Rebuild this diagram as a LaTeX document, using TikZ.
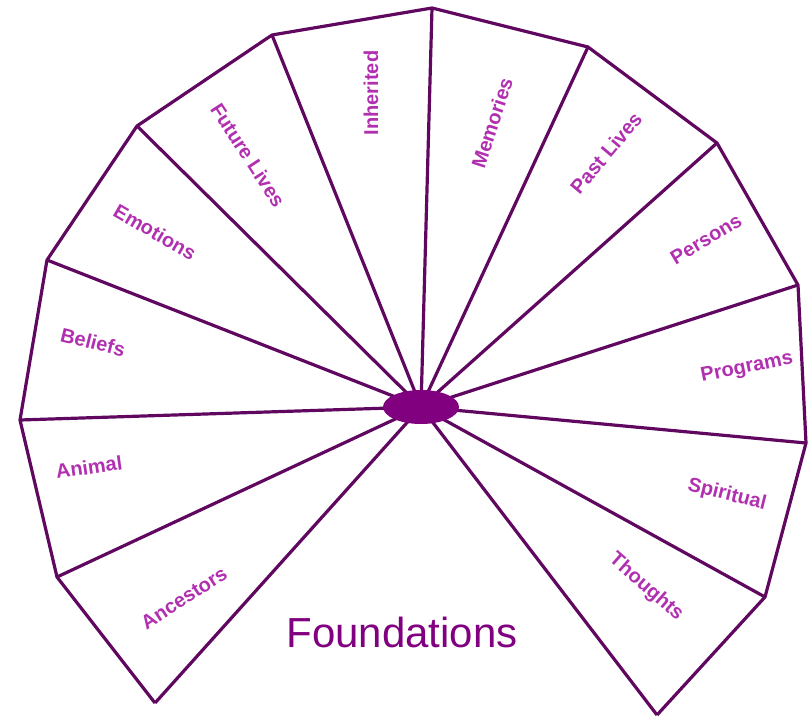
\documentclass[tikz,border=0pt]{standalone}
\usepackage{fontspec}
\setmainfont{Liberation Sans}
\usetikzlibrary{shapes.geometric}
\definecolor{spoke}{RGB}{96,8,96}
\definecolor{lblcol}{RGB}{176,48,176}
\definecolor{hubcol}{RGB}{128,0,128}
\tikzset{
  lbl/.style={text=lblcol,font=\fontsize{20}{23}\selectfont\bfseries,inner sep=0pt},
  rim/.style={draw=spoke,line width=3.2pt,line join=round}
}
\begin{document}
\begin{tikzpicture}[x=1pt,y=-1pt]
    \useasboundingbox (0,0) rectangle (808,720);
    \coordinate (C) at (421,407);
    \coordinate (V1) at (155,703);
    \coordinate (V2) at (57,577);
    \coordinate (V3) at (20,420);
    \coordinate (V4) at (47,260);
    \coordinate (V5) at (137,126);
    \coordinate (V6) at (272,35);
    \coordinate (V7) at (432,8);
    \coordinate (V8) at (588,47);
    \coordinate (V9) at (717,143);
    \coordinate (V10) at (798,285);
    \coordinate (V11) at (806,443);
    \coordinate (V12) at (765,597);
    \coordinate (V13) at (657,715);
    \draw[rim] (C) -- (V1) (C) -- (V2) (C) -- (V3) (C) -- (V4) (C) -- (V5)
        (C) -- (V6) (C) -- (V7) (C) -- (V8) (C) -- (V9) (C) -- (V10)
        (C) -- (V11) (C) -- (V12) (C) -- (V13);
    \draw[rim] (V1) -- (V2) -- (V3) -- (V4) -- (V5) -- (V6) -- (V7)
        -- (V8) -- (V9) -- (V10) -- (V11) -- (V12) -- (V13);
    \node[ellipse,fill=hubcol,minimum width=76pt,minimum height=34pt] (hub) at (C) {};
    \node[lbl,rotate=33] (ancestors) at (184,598) {Ancestors};
    \node[lbl,rotate=8] (animal) at (89,467) {Animal};
    \node[lbl,rotate=-14] (beliefs) at (93,342) {Beliefs};
    \node[lbl,rotate=-30] (emotions) at (155,232) {Emotions};
    \node[lbl,rotate=-57] (future) at (248,155) {Future Lives};
    \node[lbl,rotate=90] (inherited) at (371,93) {Inherited};
    \node[lbl,rotate=72] (memories) at (492,123) {Memories};
    \node[lbl,rotate=50] (past) at (606,153) {Past Lives};
    \node[lbl,rotate=31] (persons) at (706,239) {Persons};
    \node[lbl,rotate=11.5] (programs) at (747,368) {Programs};
    \node[lbl,rotate=-14] (spiritual) at (727,495) {Spiritual};
    \node[lbl,rotate=-41] (thoughts) at (646,587) {Thoughts};
    \node[text=hubcol,font=\fontsize{42}{50}\selectfont,inner sep=0pt] (found) at (402,632) {Foundations};
\end{tikzpicture}
\end{document}
